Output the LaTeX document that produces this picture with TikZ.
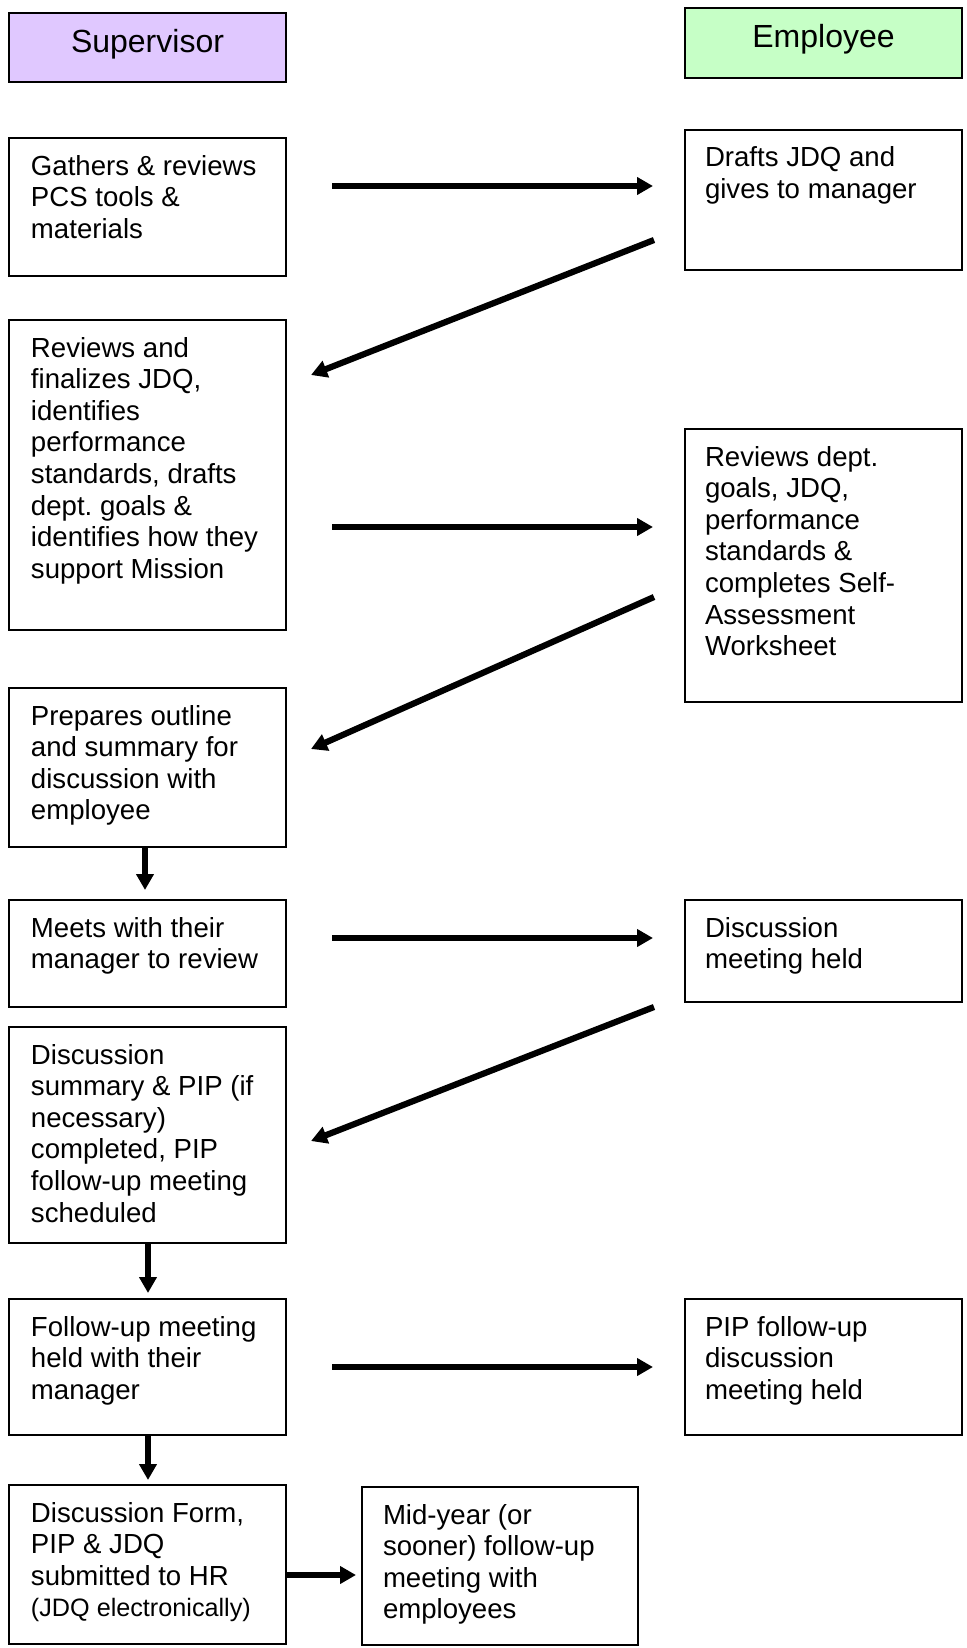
\documentclass[tikz,border=0pt]{standalone}
\usepackage{fontspec}
\setmainfont{Liberation Sans}
\usetikzlibrary{arrows.meta}
\definecolor{supfill}{RGB}{224,200,255}
\definecolor{empfill}{RGB}{198,255,198}
\tikzset{
  box/.style={draw=black, line width=1.1pt, anchor=north west, inner sep=0pt, outer sep=0pt},
  txt/.style={anchor=north west, inner sep=0pt, outer sep=0pt, align=left,
    font=\fontsize{13.8pt}{15.8pt}\selectfont\frenchspacing},
  headtxt/.style={anchor=base, inner sep=0pt, font=\fontsize{16pt}{18pt}\selectfont},
  arr/.style={line width=3.1pt, -{Triangle[length=8pt,width=8.5pt]}},
  darr/.style={line width=2.7pt, -{Triangle[length=8pt,width=8.5pt]}},
}
\newcommand{\fl}{\rule{0pt}{12pt}}
\begin{document}
\begin{tikzpicture}[x=0.5pt,y=-0.5pt]
\useasboundingbox (0,0) rectangle (967,1648);
% headers
\node[box, fill=supfill, minimum width=138.5pt, minimum height=34.5pt] (sup) at (9,13) {};
\node[headtxt] (suptxt) at ([shift={(0,40)}]sup.north) {Supervisor};
\node[box, fill=empfill, minimum width=138.5pt, minimum height=35pt] (emp) at (685,8) {};
\node[headtxt] (emptxt) at ([shift={(0,40)}]emp.north) {Employee};
% supervisor boxes
\node[box, minimum width=138.5pt, minimum height=69pt] (b1) at (9,138) {};
\node[txt] (t1) at ([shift={(22,13)}]b1.north west) {\fl Gathers \& reviews\\PCS tools \&\\materials};
\node[box, minimum width=138.5pt, minimum height=155pt] (b2) at (9,320) {};
\node[txt] (t2) at ([shift={(22,13)}]b2.north west) {\fl Reviews and\\finalizes JDQ,\\identifies\\performance\\standards, drafts\\dept. goals \&\\identifies how they\\support Mission};
\node[box, minimum width=138.5pt, minimum height=79.5pt] (b3) at (9,688) {};
\node[txt] (t3) at ([shift={(22,13)}]b3.north west) {\fl Prepares outline\\and summary for\\discussion with\\employee};
\node[box, minimum width=138.5pt, minimum height=53.5pt] (b4) at (9,900) {};
\node[txt] (t4) at ([shift={(22,13)}]b4.north west) {\fl Meets with their\\manager to review};
\node[box, minimum width=138.5pt, minimum height=108pt] (b5) at (9,1027) {};
\node[txt] (t5) at ([shift={(22,13)}]b5.north west) {\fl Discussion\\summary \& PIP (if\\necessary)\\completed, PIP\\follow-up meeting\\scheduled};
\node[box, minimum width=138.5pt, minimum height=68pt] (b6) at (9,1299) {};
\node[txt] (t6) at ([shift={(22,13)}]b6.north west) {\fl Follow-up meeting\\held with their\\manager};
\node[box, minimum width=138.5pt, minimum height=79.5pt] (b7) at (9,1485) {};
\node[txt] (t7) at ([shift={(22,13)}]b7.north west) {\fl Discussion Form,\\PIP \& JDQ\\submitted to HR\\{\fontsize{12.6pt}{15.8pt}\selectfont (JDQ electronically)}};
\node[box, minimum width=138pt, minimum height=79pt] (b8) at (362,1487) {};
\node[txt] (t8) at ([shift={(21,13)}]b8.north west) {\fl Mid-year (or\\sooner) follow-up\\meeting with\\employees};
% employee boxes
\node[box, minimum width=138.5pt, minimum height=70pt] (e1) at (685,130) {};
\node[txt] (u1) at ([shift={(20,13)}]e1.north west) {\fl Drafts JDQ and\\gives to manager};
\node[box, minimum width=138.5pt, minimum height=136.5pt] (e2) at (685,429) {};
\node[txt] (u2) at ([shift={(20,13)}]e2.north west) {\fl Reviews dept.\\goals, JDQ,\\performance\\standards \&\\completes Self-\\Assessment\\Worksheet};
\node[box, minimum width=138.5pt, minimum height=51pt] (e3) at (685,900) {};
\node[txt] (u3) at ([shift={(20,13)}]e3.north west) {\fl Discussion\\meeting held};
\node[box, minimum width=138.5pt, minimum height=68pt] (e4) at (685,1299) {};
\node[txt] (u4) at ([shift={(20,13)}]e4.north west) {\fl PIP follow-up\\discussion\\meeting held};
% connectors
\draw[arr] ([shift={(46,-21)}]b1.east) -- ([shift={(-32,-14)}]e1.west);
\draw[arr] ([shift={(-31,40)}]e1.west) -- ([shift={(25,-100)}]b2.east);
\draw[arr] ([shift={(46,52)}]b2.east) -- ([shift={(-32,-38.5)}]e2.west);
\draw[arr] ([shift={(-31,31.5)}]e2.west) -- ([shift={(25,-18.5)}]b3.east);
\draw[darr] ([shift={(-2.5,0)}]b3.south) -- ([shift={(-2.5,-10)}]b4.north);
\draw[arr] ([shift={(46,-15.5)}]b4.east) -- ([shift={(-32,-13)}]e3.west);
\draw[arr] ([shift={(-31,56)}]e3.west) -- ([shift={(25,6)}]b5.east);
\draw[darr] ([shift={(0.5,0)}]b5.south) -- ([shift={(0.5,-6)}]b6.north);
\draw[arr] ([shift={(46,0)}]b6.east) -- ([shift={(-32,0)}]e4.west);
\draw[darr] ([shift={(0.5,0)}]b6.south) -- ([shift={(0.5,-5)}]b7.north);
\draw[arr] ([shift={(0,10.5)}]b7.east) -- ([shift={(-6,9)}]b8.west);
\end{tikzpicture}
\end{document}
